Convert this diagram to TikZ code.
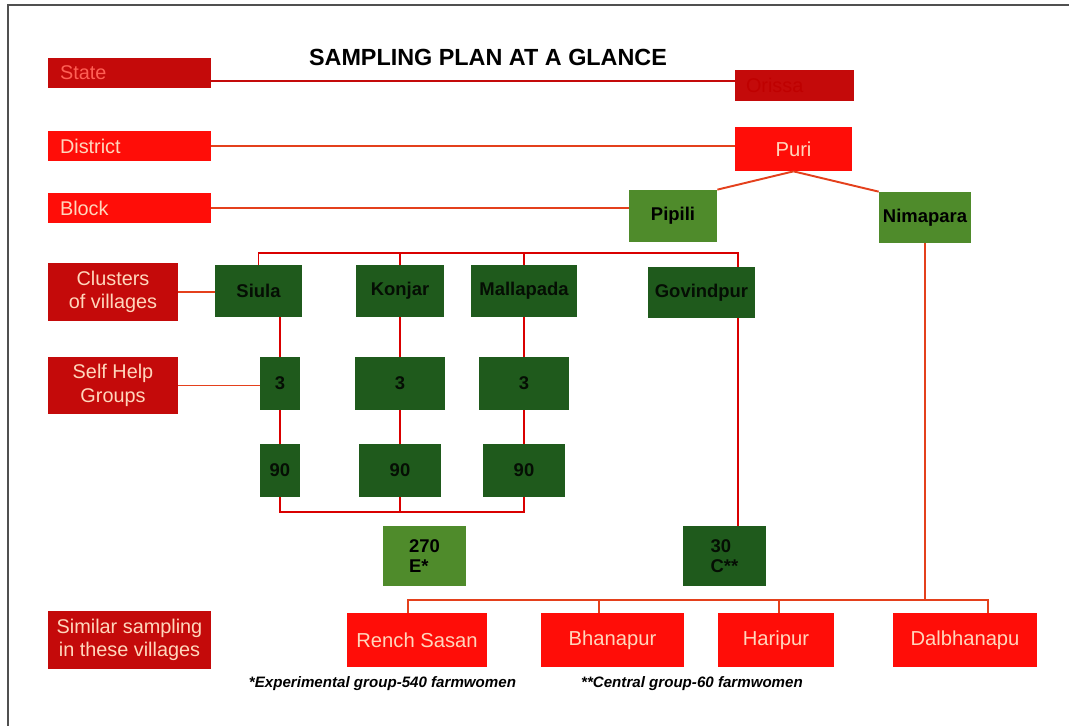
\documentclass[tikz,border=0pt]{standalone}
\usepackage{fontspec}
\setmainfont{Liberation Sans}
\definecolor{stateRed}{HTML}{C40A0A}
\definecolor{brightRed}{HTML}{FF0D08}
\definecolor{deepGreen}{HTML}{1F5A1C}
\definecolor{leafGreen}{HTML}{4F8B2B}
\definecolor{paleText}{HTML}{FFD6BC}
\definecolor{linkRed}{HTML}{E4401C}
\definecolor{frameGray}{HTML}{505050}

\begin{document}
\begin{tikzpicture}[x=0.02cm,y=-0.02cm,
  box/.style 2 args={minimum width=#1cm, minimum height=#2cm, inner sep=0pt},
  lbl/.style={fill=#1, text=paleText, align=center,
    font=\fontsize{11.3}{13.5}\selectfont},
  leftlbl/.style={lbl=#1, align=left, text width=2.78cm, inner xsep=0.24cm,
    minimum height=0.6cm, inner ysep=0pt},
  village/.style={fill=brightRed, text=paleText, font=\fontsize{11.5}{13.5}\selectfont},
  dkgreen/.style={fill=deepGreen, text=black!85!deepGreen, align=center,
    font=\bfseries\fontsize{10.5}{11}\selectfont},
  ltgreen/.style={fill=leafGreen, text=black, align=left,
    font=\bfseries\fontsize{10.5}{11}\selectfont},
  link/.style={draw=linkRed, line width=1.1pt},
  note/.style={font=\bfseries\itshape\fontsize{8.6}{10}\selectfont}]

  \useasboundingbox (0,0) rectangle (1069,726);
  % frame of the page
  \draw[frameGray, line width=0.8pt] (1069,5) -- (8,5) -- (8,726);

  \node[font=\bfseries\fontsize{13.3}{16}\selectfont] (title) at (488,57) {SAMPLING PLAN AT A GLANCE};

  % level labels
  \node[leftlbl=stateRed, text=red!55!paleText] (state) at (129.5,73) {State};
  \node[leftlbl=brightRed] (district) at (129.5,146) {District};
  \node[leftlbl=brightRed] (block) at (129.5,208) {Block};
  \node[lbl=stateRed, box={2.6}{1.16}] (clusters) at (113,292) {Clusters\\of villages};
  \node[lbl=stateRed, box={2.6}{1.16}] (shgl) at (113,385.5) {Self Help\\Groups};
  \node[lbl=stateRed, box={3.26}{1.16}] (similar) at (129.5,640) {Similar sampling\\in these villages};

  % state, district, block
  \node[fill=stateRed, text=red!75!black, align=left, text width=1.94cm, inner xsep=0.22cm,
    minimum height=0.62cm, inner ysep=0pt, font=\fontsize{11.3}{13.5}\selectfont] (orissa) at (794.5,85.5) {Orissa};
  \node[village, box={2.34}{0.88}] (puri) at (793.5,149) {Puri};
  \node[ltgreen, box={1.76}{1.04}] (pipili) at (673,216) {Pipili};
  \node[ltgreen, box={1.84}{1.02}] (nimapara) at (925,217.5) {Nimapara};

  % clusters
  \node[dkgreen, box={1.74}{1.04}] (siula) at (258.5,291) {Siula};
  \node[dkgreen, box={1.76}{1.04}] (konjar) at (400,291) {Konjar};
  \node[dkgreen, box={2.14}{1.04}] (malla) at (524,291) {Mallapada};
  \node[dkgreen, box={2.14}{1.02}] (govind) at (701.5,292.5) {Govindpur};

  % self help groups
  \node[dkgreen, box={0.8}{1.06}] (shgA) at (280,383.5) {3};
  \node[dkgreen, box={1.82}{1.06}] (shgB) at (400,383.5) {3};
  \node[dkgreen, box={1.82}{1.06}] (shgC) at (524,383.5) {3};

  \node[dkgreen, box={0.8}{1.06}] (nineA) at (280,470.5) {90};
  \node[dkgreen, box={1.66}{1.06}] (nineB) at (400,470.5) {90};
  \node[dkgreen, box={1.64}{1.06}] (nineC) at (524,470.5) {90};

  \node[ltgreen, box={1.66}{1.2}] (expE) at (424.5,556) {270\\E*};
  \node[dkgreen, box={1.66}{1.2}, align=left] (ctrlC) at (724.5,556) {30\\C**};

  % similar villages
  \node[village, box={2.8}{1.08}] (rench) at (417,640) {Rench Sasan};
  \node[village, box={2.86}{1.08}] (bhana) at (612.5,640) {Bhanapur};
  \node[village, box={2.32}{1.08}] (hari) at (776,640) {Haripur};
  \node[village, box={2.88}{1.08}] (dalb) at (965,640) {Dalbhanapu};

  \node[note] (noteE) at (382.5,684) {*Experimental group-540 farmwomen};
  \node[note] (noteC) at (692,684) {**Central group-60 farmwomen};

  % connectors
  \coordinate (clbar) at (0,253);
  \coordinate (gvline) at (738,0);
  \coordinate (sumbar) at (0,512);
  \coordinate (dR) at (408,600);
  \coordinate (dB) at (599,600);
  \coordinate (dH) at (779,600);
  \coordinate (dD) at (988,600);

  \draw[link, draw=stateRed] ([yshift=-0.16cm]state.east) -- ([yshift=-0.16cm]state.east -| orissa.west);
  \draw[link] (district.east) -- (district.east -| puri.west);
  \draw[link] (block.east) -- (block.east -| pipili.west);
  \draw[link] (puri.south) -- (pipili.north east);
  \draw[link] (puri.south) -- (nimapara.north west);

  \draw[link, draw=red!85!black] (siula.north) |- (clbar -| gvline) -- (gvline |- govind.north);
  \draw[link, draw=red!85!black] (konjar.north) -- (konjar.north |- clbar);
  \draw[link, draw=red!85!black] (malla.north) -- (malla.north |- clbar);
  \draw[link, draw=red!85!black] (gvline |- govind.south) -- (gvline |- ctrlC.north);

  \draw[link] (clusters.east) -- (clusters.east -| siula.west);
  \draw[link] (shgl.east) -- (shgl.east -| shgA.west);

  \draw[link, draw=red!85!black] (shgA) -- (shgA |- siula.south);
  \draw[link, draw=red!85!black] (shgB) -- (shgB |- konjar.south);
  \draw[link, draw=red!85!black] (shgC) -- (shgC |- malla.south);
  \draw[link, draw=red!85!black] (shgA) -- (nineA);
  \draw[link, draw=red!85!black] (shgB) -- (nineB);
  \draw[link, draw=red!85!black] (shgC) -- (nineC);
  \draw[link, draw=red!85!black] (nineA.south) |- (sumbar -| nineC) -- (nineC.south);
  \draw[link, draw=red!85!black] (nineB.south) -- (nineB.south |- sumbar);

  \draw[link] (nimapara.south) -- (nimapara.south |- dR);
  \draw[link] (dR |- rench.north) -- (dR) -- (dD) -- (dD |- dalb.north);
  \draw[link] (dB) -- (dB |- bhana.north);
  \draw[link] (dH) -- (dH |- hari.north);

\end{tikzpicture}
\end{document}
